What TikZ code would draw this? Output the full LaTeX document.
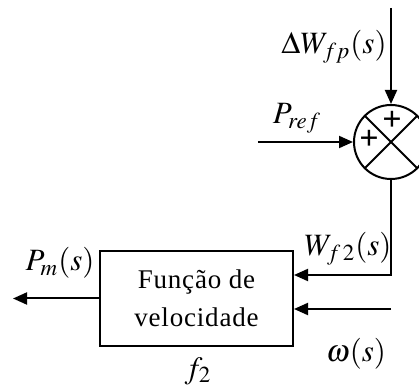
\documentclass[tikz,border=0pt]{standalone}
\usepackage{amsmath}
\usepackage{mathptmx}
\usepackage{fontspec}
\setmainfont{Liberation Serif}
\usepackage{tikz}
\usetikzlibrary{arrows.meta, positioning, calc}

\begin{document}
\begin{tikzpicture}[x=0.5pt, y=-0.5pt, >={Triangle[length=7pt, width=6pt]},
    linha/.style={line width=1pt, ->},
    rotulo/.style={font=\fontsize{15.5}{18}\selectfont, inner sep=0pt},
    bloco/.style={draw, line width=1pt, minimum width=96.5pt, minimum height=47.5pt,
                  align=center, font=\fontsize{13.5}{19}\selectfont\addfontfeature{LetterSpace=3}},
    somador/.style={draw, circle, line width=1pt, minimum size=37pt, inner sep=0pt}]
  \useasboundingbox (0,0) rectangle (419,390);
  \clip (0,0) rectangle (419,390);

  % Somador
  \node[somador] (soma) at (391,142) {};
  \draw[line width=1pt] (soma.north west) -- (soma.south east);
  \draw[line width=1pt] (soma.north east) -- (soma.south west);
  \node[font=\bfseries\fontsize{17}{18}\selectfont, inner sep=0pt] (mais1) at (392,121) {+};
  \node[font=\bfseries\fontsize{17}{18}\selectfont, inner sep=0pt] (mais2) at (369,140) {+};

  % Bloco f2
  \node[bloco] (funcao) at (196.5,298.5) {Função de\\velocidade};
  \node[rotulo] (f2) at (198,371) {$f_2$};

  % Entradas do somador
  \coordinate (dwini) at (391,8);
  \draw[linha] (dwini) -- (soma.north);
  \node[rotulo] (dw) at (334,47) {$\Delta W_{fp}(s)$};
  \coordinate (prefini) at (258,142);
  \draw[linha] (prefini) -- (soma.west);
  \node[rotulo] (pref) at (297,118) {$P_{ref}$};

  % Realimentacao para o bloco
  \coordinate (canto) at (391,275);
  \draw[linha] (soma.south) -- (canto) -- (canto -| funcao.east);
  \node[rotulo] (wf2) at (348,249) {$W_{f\,2}(s)$};

  % Velocidade
  \coordinate (omegaini) at (391,309);
  \draw[linha] (omegaini) -- (omegaini -| funcao.east);
  \node[rotulo] (omega) at (356,354) {$\omega(s)$};

  % Saida
  \coordinate (pmfim) at (13,298.5);
  \draw[linha] (funcao.west) -- (pmfim);
  \node[rotulo] (pm) at (60,263) {$P_m(s)$};
\end{tikzpicture}
\end{document}
